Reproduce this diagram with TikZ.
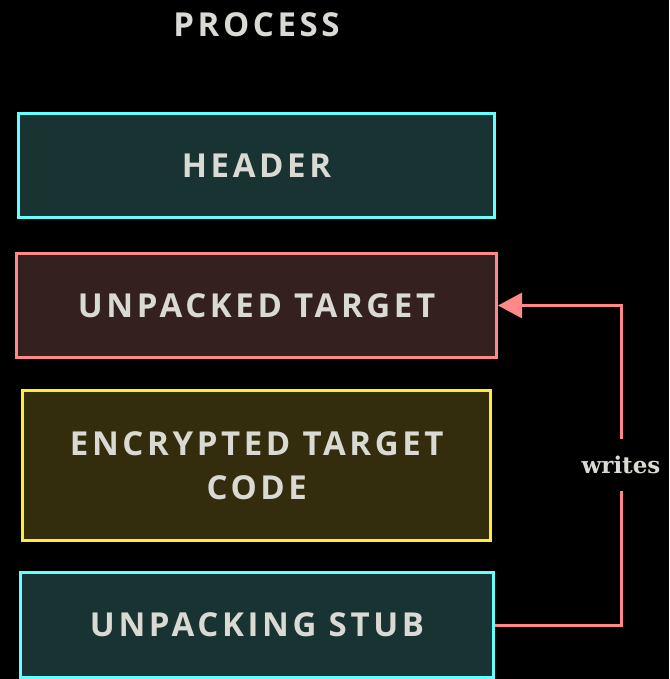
\documentclass[tikz,border=0pt]{standalone}
\usepackage{fontspec}
\newfontfamily\capsfont[LetterSpace=11]{Open Sans}
\newfontfamily\slabfont{DejaVu Serif}
\usetikzlibrary{arrows.meta}

\definecolor{cyanline}{RGB}{102,255,255}
\definecolor{cyanfill}{RGB}{25,51,51}
\definecolor{redline}{RGB}{255,136,136}
\definecolor{redfill}{RGB}{53,32,32}
\definecolor{yellowline}{RGB}{255,235,59}
\definecolor{yellowfill}{RGB}{51,45,13}
\definecolor{boxtext}{RGB}{218,218,212}

\begin{document}
\begin{tikzpicture}[x=1pt, y=-1pt,
    box/.style={rectangle, line width=3pt, inner sep=0pt, align=center,
                text=boxtext, font=\capsfont\bfseries\fontsize{33}{44}\selectfont},
    link/.style={draw=redline, line width=3pt, -{Triangle[length=24pt,width=25pt]}},
    label/.style={fill=black, text=boxtext, inner xsep=2pt, inner ysep=17pt,
                  font=\slabfont\bfseries\fontsize{23}{27}\selectfont}
]
\useasboundingbox[fill=black] (0,0) rectangle (669,679);

% Title
\node[text=boxtext, font=\capsfont\bfseries\fontsize{33}{40}\selectfont] (title) at (256.5,25) {PROCESS};

% Memory boxes
\node[box, draw=cyanline, fill=cyanfill, minimum width=476pt, minimum height=104pt]
    (header)  at (256.5,165.5) {HEADER};
\node[box, draw=redline, fill=redfill, minimum width=480pt, minimum height=104pt]
    (target)  at (256.5,305.5) {UNPACKED TARGET};
\node[box, draw=yellowline, fill=yellowfill, minimum width=468pt, minimum height=150pt]
    (payload) at (256.8,465.5) {ENCRYPTED TARGET\\CODE};
\node[box, draw=cyanline, fill=cyanfill, minimum width=473pt, minimum height=105pt]
    (stub)    at (257,625) {UNPACKING STUB};

% Stub writes the target
\draw[link] (stub.east) -- ++(126,0) |- node[label, pos=0.25] {writes} (target.east);

\end{tikzpicture}
\end{document}
